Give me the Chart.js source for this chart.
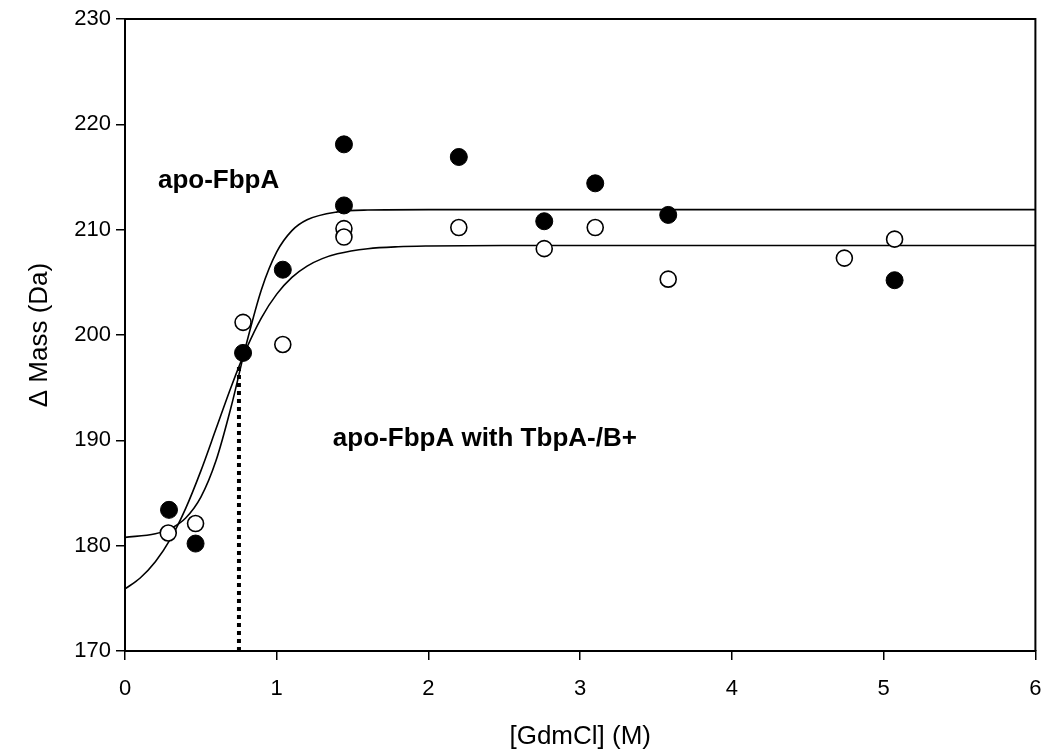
<!DOCTYPE html>
<html>
<head>
<meta charset="utf-8">
<script src="https://cdn.jsdelivr.net/npm/chart.js@4.4.1/dist/chart.umd.min.js"></script>
<style>
  html, body { margin: 0; padding: 0; background: #fff; }
</style>
</head>
<body>
<canvas id="c" width="1045" height="756"></canvas>
<script>
// Denaturant concentration [GdmCl] (M) and mass shift (Da)
const filledX = [0.29, 0.465, 0.778, 1.04, 1.443, 1.443, 2.2, 2.763, 3.099, 3.58, 5.072];
const filledY = [183.4, 180.2, 198.3, 206.2, 218.1, 212.3, 216.9, 210.8, 214.4, 211.4, 205.2];
const openX = [0.285, 0.465, 0.778, 1.04, 1.443, 1.443, 2.2, 2.763, 3.099, 3.58, 4.741, 5.072];
const openY = [181.2, 182.1, 201.2, 199.1, 210.1, 209.3, 210.2, 208.2, 210.2, 205.3, 207.3, 209.1];

// Fitted transition curves (sampled)
const fitSteepX = [0, 0.2, 0.3, 0.4, 0.5, 0.6, 0.7, 0.8, 0.9, 1.0, 1.1, 1.2, 1.4, 1.6, 2.0, 3.0, 4.0, 5.0, 6.0];
const fitSteepY = [180.79, 181.13, 181.62, 182.63, 184.61, 188.08, 193.21, 199.16, 204.35, 207.89, 209.91, 210.94, 211.69, 211.86, 211.9, 211.9, 211.9, 211.9, 211.9];
const fitBroadX = [0, 0.1, 0.2, 0.3, 0.4, 0.5, 0.6, 0.7, 0.8, 0.9, 1.0, 1.1, 1.2, 1.3, 1.4, 1.6, 1.8, 2.0, 2.5, 3.0, 4.0, 5.0, 6.0];
const fitBroadY = [175.89, 176.93, 178.47, 180.64, 183.54, 187.10, 191.09, 195.09, 198.70, 201.66, 203.88, 205.47, 206.54, 207.25, 207.71, 208.19, 208.38, 208.45, 208.5, 208.5, 208.5, 208.5, 208.5];

// Transition midpoint marker
const midX = [0.751, 0.751];
const midY = [170, 197];

const xTicks = [0, 1, 2, 3, 4, 5, 6];
const yTicks = [170, 180, 190, 200, 210, 220, 230];

const pts = (xs, ys) => xs.map((x, i) => ({ x: x, y: ys[i] }));
const FONT = "'Liberation Sans', Arial, sans-serif";

// Text labels placed in data coordinates
const labels = [
  { text: 'apo-FbpA', x: 0.217, y: 214.0 },
  { text: 'apo-FbpA with TbpA-/B+', x: 1.37, y: 189.5 }
];

const framePlugin = {
  id: 'frame',
  afterDatasetsDraw(chart) {
    const { ctx, chartArea: a } = chart;
    ctx.save();
    ctx.strokeStyle = '#000';
    ctx.lineWidth = 2;
    ctx.beginPath();
    ctx.moveTo(a.left, a.top);
    ctx.lineTo(a.right, a.top);
    ctx.lineTo(a.right, a.bottom);
    ctx.stroke();
    ctx.restore();
  },
  afterDraw(chart) {
    const { ctx, scales } = chart;
    ctx.save();
    ctx.fillStyle = '#000';
    ctx.font = 'bold 26px ' + FONT;
    ctx.textBaseline = 'alphabetic';
    ctx.textAlign = 'left';
    labels.forEach(l => {
      ctx.fillText(l.text, scales.x.getPixelForValue(l.x), scales.y.getPixelForValue(l.y));
    });
    ctx.restore();
  }
};

new Chart(document.getElementById('c'), {
  type: 'scatter',
  data: {
    datasets: [
      {
        label: 'apo-FbpA',
        data: pts(filledX, filledY),
        pointStyle: 'circle',
        pointRadius: 8.5,
        backgroundColor: '#000',
        borderColor: '#000',
        borderWidth: 1,
        order: 0
      },
      {
        label: 'apo-FbpA with TbpA-/B+',
        data: pts(openX, openY),
        pointStyle: 'circle',
        pointRadius: 8,
        backgroundColor: '#fff',
        borderColor: '#000',
        borderWidth: 1.6,
        order: 0
      },
      {
        label: 'fit steep',
        data: pts(fitSteepX, fitSteepY),
        showLine: true,
        pointRadius: 0,
        borderColor: '#000',
        borderWidth: 1.6,
        cubicInterpolationMode: 'monotone',
        order: 2
      },
      {
        label: 'fit broad',
        data: pts(fitBroadX, fitBroadY),
        showLine: true,
        pointRadius: 0,
        borderColor: '#000',
        borderWidth: 1.6,
        cubicInterpolationMode: 'monotone',
        order: 2
      },
      {
        label: 'midpoint',
        data: pts(midX, midY),
        showLine: true,
        pointRadius: 0,
        borderColor: '#000',
        borderWidth: 4,
        borderDash: [4, 4],
        order: 1
      }
    ]
  },
  options: {
    responsive: false,
    animation: false,
    devicePixelRatio: 1,
    layout: { padding: { top: 19, right: 6, left: 0, bottom: 0 } },
    plugins: { legend: { display: false }, tooltip: { enabled: false } },
    scales: {
      x: {
        type: 'linear',
        min: 0, max: 6,
        afterBuildTicks: s => { s.ticks = xTicks.map(v => ({ value: v })); },
        afterFit: s => { s.height = 105; s.paddingLeft = 0; s.paddingRight = 0; },
        grid: { drawOnChartArea: false, drawTicks: true, tickLength: 9, color: '#000', lineWidth: 1.5 },
        border: { display: true, color: '#000', width: 2 },
        ticks: { color: '#000', font: { family: FONT, size: 22 }, padding: 16 },
        title: { display: true, text: '[GdmCl] (M)', color: '#000', font: { family: FONT, size: 26 }, padding: { top: 22 } }
      },
      y: {
        type: 'linear',
        min: 170, max: 230,
        afterBuildTicks: s => { s.ticks = yTicks.map(v => ({ value: v })); },
        afterFit: s => { s.width = 125; s.paddingTop = 0; s.paddingBottom = 0; },
        grid: { drawOnChartArea: false, drawTicks: true, tickLength: 9, color: '#000', lineWidth: 1.5 },
        border: { display: true, color: '#000', width: 2 },
        ticks: { color: '#000', font: { family: FONT, size: 22 }, padding: 5 },
        title: { display: true, text: '\u0394 Mass (Da)', color: '#000', font: { family: FONT, size: 26 }, padding: { top: 24, bottom: 20 } }
      }
    }
  },
  plugins: [framePlugin]
});
</script>
</body>
</html>
